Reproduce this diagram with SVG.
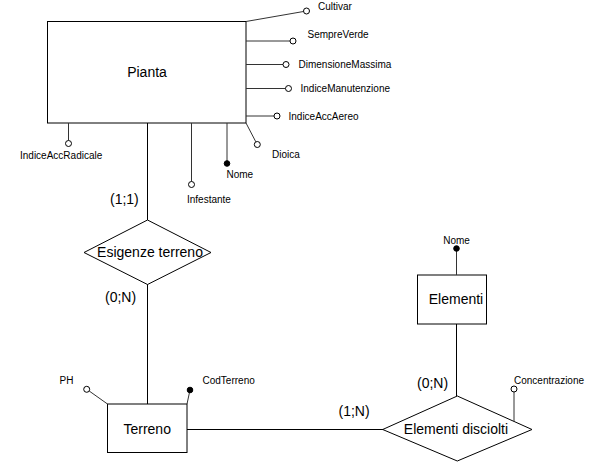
<svg xmlns="http://www.w3.org/2000/svg" width="600" height="464" viewBox="0 0 600 464">
<style>
  .ent { fill: #fff; stroke: #000; stroke-width: 1; }
  .rel { fill: #fff; stroke: #000; stroke-width: 1; }
  .lnk { stroke: #000; stroke-width: 1; fill: none; }
  .att { stroke: #333; stroke-width: 1; fill: none; }
  .open { fill: #fff; stroke: #000; stroke-width: 1; }
  .key { fill: #000; stroke: #000; stroke-width: 1; }
  .big { font-family: "Liberation Sans", Arial, sans-serif; font-size: 14px; fill: #000; }
  .sm { font-family: "Liberation Sans", Arial, sans-serif; font-size: 10px; fill: #000; }
  .mid { text-anchor: middle; }
</style>
<rect width="600" height="464" fill="#fff"/>
<g id="connectors">
  <line class="lnk" x1="147.5" y1="123" x2="147.5" y2="220"/>
  <line class="lnk" x1="147.5" y1="284" x2="147.5" y2="404"/>
  <line class="lnk" x1="187" y1="429.5" x2="383" y2="429.5"/>
  <line class="lnk" x1="456.5" y1="324" x2="456.5" y2="396"/>
</g>
<g id="pianta">
  <rect class="ent" x="47.5" y="21.5" width="198.5" height="101.5"/>
  <text class="big mid" x="147" y="77">Pianta</text>
</g>
<g id="attr-cultivar">
  <line class="att" x1="246" y1="21.5" x2="303.5" y2="11.5"/>
  <circle class="open" cx="306.5" cy="11" r="3"/>
  <text class="sm" x="318" y="9.5">Cultivar</text>
</g>
<g id="attr-sempreverde">
  <line class="att" x1="246" y1="41" x2="290" y2="41"/>
  <circle class="open" cx="293" cy="41" r="3"/>
  <text class="sm" x="307.5" y="37.5">SempreVerde</text>
</g>
<g id="attr-dimensionemassima">
  <line class="att" x1="246" y1="64.5" x2="283" y2="64.5"/>
  <circle class="open" cx="286" cy="64.5" r="3"/>
  <text class="sm" x="298.5" y="67.5">DimensioneMassima</text>
</g>
<g id="attr-indicemanutenzione">
  <line class="att" x1="246" y1="88.5" x2="285.5" y2="88.5"/>
  <circle class="open" cx="288.5" cy="88.5" r="3"/>
  <text class="sm" x="300.5" y="92">IndiceManutenzione</text>
</g>
<g id="attr-indiceaccaereo">
  <line class="att" x1="246" y1="116" x2="274" y2="116"/>
  <circle class="open" cx="277" cy="116" r="3"/>
  <text class="sm" x="288.5" y="119.5">IndiceAccAereo</text>
</g>
<g id="attr-dioica">
  <line class="att" x1="246" y1="123" x2="255.8" y2="141.8"/>
  <circle class="open" cx="257.3" cy="144.5" r="3"/>
  <text class="sm" x="272" y="157.5">Dioica</text>
</g>
<g id="attr-nome-pianta">
  <line class="att" x1="227" y1="123" x2="227" y2="163.5"/>
  <circle class="key" cx="227" cy="163.5" r="2.8"/>
  <text class="sm" x="226.5" y="177.5">Nome</text>
</g>
<g id="attr-infestante">
  <line class="att" x1="191.5" y1="123" x2="191.5" y2="181.5"/>
  <circle class="open" cx="191.5" cy="184.5" r="3"/>
  <text class="sm" x="187" y="203">Infestante</text>
</g>
<g id="attr-indiceaccradicale">
  <line class="att" x1="68.5" y1="123" x2="68.5" y2="140.5"/>
  <circle class="open" cx="68.5" cy="143.5" r="3"/>
  <text class="sm" x="20" y="158.5">IndiceAccRadicale</text>
</g>
<g id="rel-esigenze">
  <polygon class="rel" points="147.5,220 211,252.5 147.5,284.5 84,252.5"/>
  <text class="big mid" x="150" y="257">Esigenze terreno</text>
  <text class="big" x="110" y="203.5">(1;1)</text>
  <text class="big" x="105" y="302">(0;N)</text>
</g>
<g id="terreno">
  <rect class="ent" x="107.5" y="404" width="79.5" height="48.5"/>
  <text class="big mid" x="147.2" y="434">Terreno</text>
</g>
<g id="attr-ph">
  <line class="att" x1="107.5" y1="404" x2="89.2" y2="391"/>
  <circle class="open" cx="86.7" cy="389.3" r="3"/>
  <text class="sm" x="59.5" y="384">PH</text>
</g>
<g id="attr-codterreno">
  <line class="att" x1="187" y1="404" x2="190" y2="390"/>
  <circle class="key" cx="190" cy="390" r="2.8"/>
  <text class="sm" x="202.5" y="384">CodTerreno</text>
</g>
<g id="elementi">
  <rect class="ent" x="417.5" y="275" width="69" height="49"/>
  <text class="big mid" x="456" y="304">Elementi</text>
</g>
<g id="attr-nome-elementi">
  <line class="att" x1="456.5" y1="275" x2="456.5" y2="248.5"/>
  <circle class="key" cx="456.5" cy="248.5" r="2.8"/>
  <text class="sm mid" x="456.5" y="244">Nome</text>
</g>
<g id="rel-elementi-disciolti">
  <polygon class="rel" points="457.3,396 532,429.5 457.3,461 382.7,429.5"/>
  <text class="big mid" x="456" y="434">Elementi disciolti</text>
  <text class="big" x="417" y="388">(0;N)</text>
  <text class="big" x="338.5" y="416">(1;N)</text>
</g>
<g id="attr-concentrazione">
  <line class="att" x1="514" y1="421.5" x2="514" y2="392"/>
  <circle class="open" cx="514" cy="389" r="3"/>
  <text class="sm" x="514" y="384">Concentrazione</text>
</g>
</svg>
